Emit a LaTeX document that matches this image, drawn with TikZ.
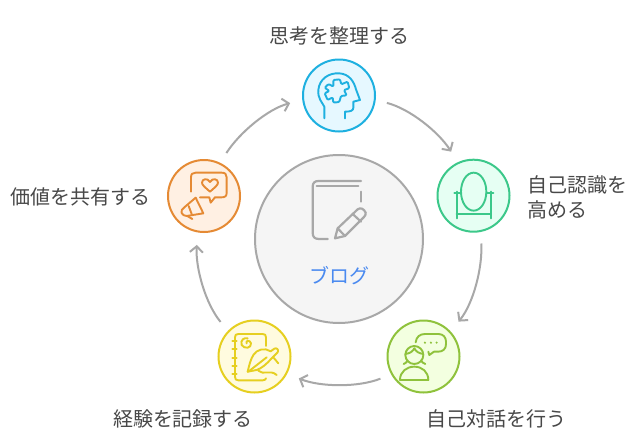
\documentclass[tikz,border=0pt]{standalone}
\usepackage{fontspec}
\newfontfamily\cjk{Noto Sans CJK JP}
\usetikzlibrary{arrows.meta}
\definecolor{ink}{HTML}{484848}
\definecolor{flow}{HTML}{A8A8A8}
\definecolor{blueS}{HTML}{1EB0E0}\definecolor{blueF}{HTML}{E6F8FF}
\definecolor{greenS}{HTML}{3CC88A}\definecolor{greenF}{HTML}{E6FFF3}
\definecolor{limeS}{HTML}{8FC23C}\definecolor{limeF}{HTML}{F3FFE0}
\definecolor{yelS}{HTML}{E6CF20}\definecolor{yelF}{HTML}{FFFBDF}
\definecolor{oraS}{HTML}{E58A34}\definecolor{oraF}{HTML}{FFF0E3}
\definecolor{hubF}{HTML}{F5F5F5}
\definecolor{brandblue}{HTML}{4A8AF0}
\tikzset{
  x=1pt,y=-1pt,
  stepcircle/.style={circle,draw,line width=2pt,minimum size=72pt,inner sep=0pt},
  label/.style={font=\cjk\fontsize{20}{25}\selectfont,text=ink,inner sep=0pt},
  flowarrow/.style={draw=flow,line width=2pt,shorten <=11.5pt,shorten >=12.5pt,looseness=0.88,
    -{Straight Barb[length=6pt,width=13pt,line width=2pt]}},
  icon/.style={line width=1.9pt,line cap=round,line join=round},
  zoomed/.style={x=0.3333pt,y=-0.3333pt}
}
\begin{document}
\begin{tikzpicture}
\useasboundingbox (0,0) rectangle (641,442);
\fill[white] (0,0) rectangle (641,442);
\node[circle,draw=flow,fill=hubF,line width=2pt,minimum size=168pt,inner sep=0pt] (hub) at (339,239) {};
\node[stepcircle,draw=blueS,fill=blueF] (top) at (339,95.5) {};
\node[stepcircle,draw=greenS,fill=greenF] (right) at (473.5,195.7) {};
\node[stepcircle,draw=limeS,fill=limeF] (br) at (423.5,356.5) {};
\node[stepcircle,draw=yelS,fill=yelF] (bl) at (254.5,356.5) {};
\node[stepcircle,draw=oraS,fill=oraF] (left) at (204,196) {};
% connectors
\draw[flowarrow] (top.-7.2) to[out=-14.5,in=122.5] (right.115.2);
\draw[flowarrow] (right.-79.2) to[out=-86.5,in=50.5] (br.43.2);
\draw[flowarrow] (br.-151.2) to[out=-158.5,in=-21.5] (bl.-28.8);
\draw[flowarrow] (bl.136.8) to[out=129.5,in=-93.5] (left.-100.8);
\draw[flowarrow] (left.64.8) to[out=57.5,in=194.5] (top.187.2);
% labels
\node[label] (t1) at (339,36) {思考を整理する};
\node[label,anchor=west] (t2a) at (527.5,185) {自己認識を};
\node[label,anchor=west] (t2b) at (527.5,210) {高める};
\node[label] (t3) at (496,419) {自己対話を行う};
\node[label] (t4) at (183,419) {経験を記録する};
\node[label] (t5) at (80.5,197) {価値を共有する};
\node[label,text=brandblue] (hubt) at (339,276) {ブログ};
% book icon
\begin{scope}[shift={(290,165)},zoomed,icon,draw=flow,line width=2.2pt]
\draw (213,48) -- (85,48) .. controls (74,48) and (68,54) .. (68,65) -- (68,203) .. controls (68,216) and (74,222) .. (87,222) -- (113,222);
\draw (205,63) -- (80,63);
\draw (212,80) -- (212,110);
\draw (135,220) -- (143,190) -- (203,133) .. controls (212,126) and (222,132) .. (227,143) .. controls (228,148) and (226,152) .. (222,156) -- (165,213) -- cycle;
\draw (143,190) -- (165,213);
\draw (188,147) -- (213,170);
\end{scope}
% head icon
\begin{scope}[shift={(280,40)},zoomed,icon,draw=blueS]
\draw (133,235) -- (133,200) .. controls (125,185) and (113,175) .. (115,150) .. controls (118,118) and (145,98) .. (178,100) .. controls (208,102) and (222,125) .. (228,148) -- (240,180) -- (220,185) -- (220,203) .. controls (220,212) and (212,215) .. (195,215) -- (195,235);
\draw[rounded corners=1.1pt] (160,140) -- (160,120) -- (180,118) -- (184,133) -- (203,125) -- (208,145) -- (192,150) -- (200,166) -- (183,168) -- (178,186) -- (160,188) -- (158,172) -- (143,180) -- (134,160) -- (148,153) -- (134,143) -- (146,132) -- cycle;
\end{scope}
% mirror icon
\begin{scope}[shift={(420,150)},zoomed,icon,draw=greenS]
\draw (161,125) ellipse [x radius=38,y radius=57];
\draw (110,125) -- (110,205);
\draw (213,125) -- (213,205);
\draw (110,191) -- (213,191);
\draw (103,128) -- (123,128);
\draw (200,128) -- (220,128);
\end{scope}
% person with speech bubble
\begin{scope}[shift={(375,310)},zoomed,icon,draw=limeS]
\draw (122,97) .. controls (124,80) and (135,72) .. (150,72) -- (190,72) .. controls (205,72) and (213,82) .. (213,95) -- (213,103) .. controls (213,117) and (203,125) .. (190,125) -- (177,125) -- (163,135) -- (160,125);
\fill[limeS] (150,98) circle (3.5) (168,98) circle (3.5) (185,98) circle (3.5);
\draw (118,135) circle (27);
\draw (91,132) .. controls (105,130) and (113,125) .. (118,115) .. controls (123,125) and (132,130) .. (145,132);
\draw (98,152) .. controls (95,157) and (91,160) .. (86,162);
\draw (138,152) .. controls (141,157) and (146,160) .. (151,162);
\draw (75,210) .. controls (75,185) and (95,170) .. (118,170) .. controls (141,170) and (160,185) .. (160,210) -- cycle;
\end{scope}
% notebook icon
\begin{scope}[shift={(205,310)},zoomed,icon,draw=yelS]
\draw (183,108) -- (183,82) .. controls (183,75) and (180,72) .. (173,72) -- (100,72) .. controls (93,72) and (90,75) .. (90,82) -- (90,200) .. controls (90,208) and (93,211) .. (100,211) -- (173,211) .. controls (180,211) and (182,208) .. (183,205);
\foreach \yy in {93,118,143,168,193} \draw (82,\yy) -- (95,\yy);
\draw (125,100) .. controls (120,92) and (135,88) .. (138,100) .. controls (140,115) and (118,118) .. (110,105) .. controls (105,90) and (118,82) .. (128,85);
\draw (130,185) -- (185,142);
\draw (128,185) .. controls (133,165) and (136,150) .. (145,135) .. controls (155,118) and (180,112) .. (197,124);
\draw (197,124) -- (208,116) .. controls (216,112) and (222,120) .. (218,127) -- (200,145) .. controls (185,162) and (170,175) .. (155,180) -- (128,185);
\draw (205,142) -- (220,160);
\draw (160,182) .. controls (175,197) and (195,177) .. (215,195);
\end{scope}
% megaphone icon
\begin{scope}[shift={(155,150)},zoomed,icon,draw=oraS]
\draw (108,125) -- (108,82) .. controls (108,72) and (113,68) .. (122,68) -- (200,68) .. controls (211,68) and (215,73) .. (215,82) -- (215,128) .. controls (215,138) and (211,142) .. (200,142) -- (180,142) -- (167,158) -- (163,142) -- (135,142);
\draw (165,125) .. controls (150,112) and (141,105) .. (141,98) .. controls (141,86) and (158,83) .. (165,96) .. controls (172,83) and (189,86) .. (189,98) .. controls (189,105) and (180,112) .. (165,125) -- cycle;
\draw (122,143) -- (145,190) -- (95,198) .. controls (80,198) and (72,182) .. (88,172) -- cycle;
\draw (101,168) -- (110,192);
\draw (97,198) -- (112,207);
\end{scope}
\end{tikzpicture}
\end{document}
